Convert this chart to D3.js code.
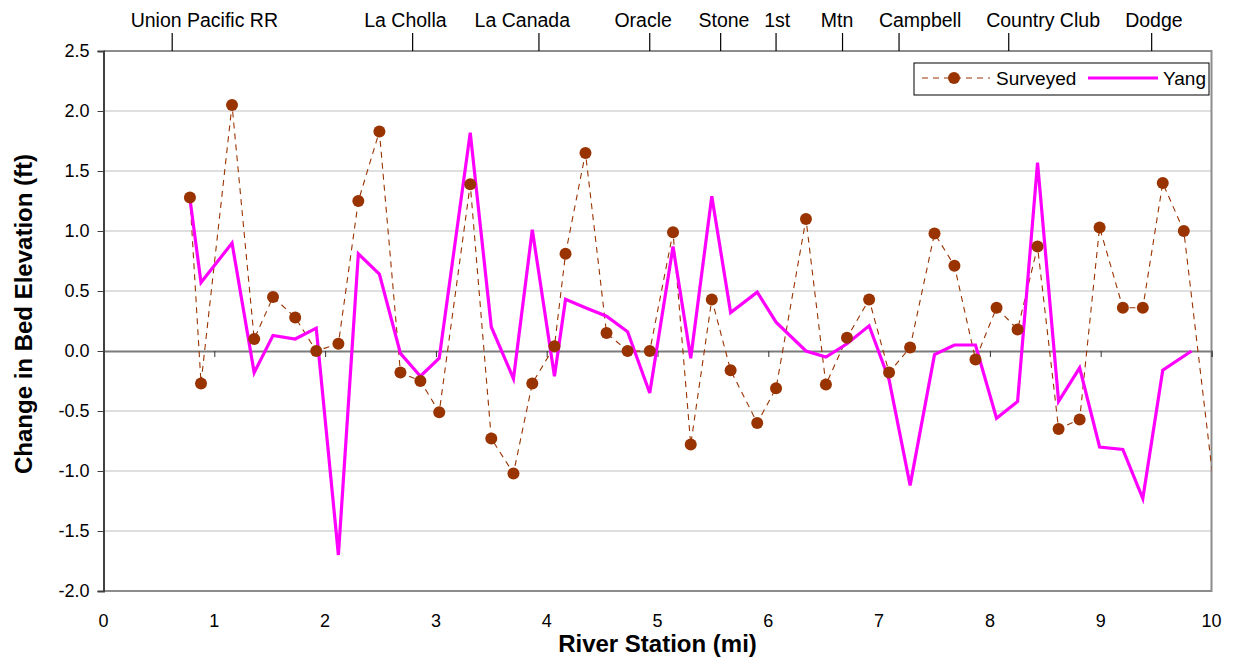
<!DOCTYPE html>
<html>
<head>
<meta charset="utf-8">
<script src="https://cdn.jsdelivr.net/npm/d3@7"></script>
<style>
  html, body { margin: 0; padding: 0; background: #ffffff; }
  svg { display: block; font-family: "Liberation Sans", Arial, sans-serif; }
</style>
</head>
<body>
<svg id="chart" width="1233" height="658"></svg>
<script>
// River stations (mi) of the surveyed cross sections
const surveyedStation = [0.78, 0.88, 1.16, 1.36, 1.53, 1.73, 1.92, 2.12, 2.30, 2.49,
  2.68, 2.86, 3.03, 3.31, 3.50, 3.70, 3.87, 4.07, 4.17, 4.35,
  4.54, 4.73, 4.93, 5.14, 5.30, 5.49, 5.66, 5.90, 6.07, 6.34,
  6.52, 6.71, 6.91, 7.09, 7.28, 7.50, 7.68, 7.87, 8.06, 8.25,
  8.43, 8.62, 8.81, 8.99, 9.20, 9.38, 9.56, 9.75, 10.05];
// Surveyed change in bed elevation (ft)
const surveyedChange = [1.28, -0.27, 2.05, 0.10, 0.45, 0.28, 0.00, 0.06, 1.25, 1.83,
  -0.18, -0.25, -0.51, 1.39, -0.73, -1.02, -0.27, 0.04, 0.81, 1.65,
  0.15, 0.00, 0.00, 0.99, -0.78, 0.43, -0.16, -0.60, -0.31, 1.10,
  -0.28, 0.11, 0.43, -0.18, 0.03, 0.98, 0.71, -0.07, 0.36, 0.18,
  0.87, -0.65, -0.57, 1.03, 0.36, 0.36, 1.40, 1.00, -1.35];

// Stations and computed change from the Yang sediment transport model
const yangStation = [0.78, 0.88, 1.16, 1.36, 1.53, 1.73, 1.92, 2.12, 2.30, 2.49,
  2.68, 2.86, 3.03, 3.31, 3.50, 3.70, 3.87, 4.07, 4.17, 4.35,
  4.54, 4.73, 4.93, 5.14, 5.30, 5.49, 5.66, 5.90, 6.07, 6.34,
  6.52, 6.71, 6.91, 7.09, 7.28, 7.50, 7.68, 7.87, 8.06, 8.25,
  8.43, 8.62, 8.81, 8.99, 9.20, 9.38, 9.56, 9.82];
const yangChange = [1.27, 0.57, 0.90, -0.18, 0.13, 0.10, 0.19, -1.70, 0.81, 0.64,
  -0.02, -0.21, -0.06, 1.82, 0.20, -0.23, 1.01, -0.21, 0.43, 0.36,
  0.29, 0.16, -0.35, 0.87, -0.06, 1.29, 0.32, 0.49, 0.24, 0.00,
  -0.05, 0.06, 0.21, -0.24, -1.12, -0.03, 0.05, 0.05, -0.56, -0.42,
  1.57, -0.42, -0.14, -0.80, -0.82, -1.23, -0.16, 0.00];

// Bridges / landmarks along the reach
const landmarkName = ["Union Pacific RR", "La Cholla", "La Canada", "Oracle", "Stone",
  "1st", "Mtn", "Campbell", "Country Club", "Dodge"];
const landmarkMile = [0.62, 2.79, 3.93, 4.93, 5.57, 6.07, 6.67, 7.18, 8.17, 9.46];
const landmarkLabelMile = [0.91, 2.725, 3.78, 4.87, 5.60, 6.08, 6.62, 7.37, 8.48, 9.48];

const xTicks = [0, 1, 2, 3, 4, 5, 6, 7, 8, 9, 10];
const yTicks = [-2.0, -1.5, -1.0, -0.5, 0.0, 0.5, 1.0, 1.5, 2.0, 2.5];

const seriesNames = ["Surveyed", "Yang"];

// ---- layout ----
const svg = d3.select("#chart");
const plotLeft = 103.5, plotTop = 51, plotRight = 1211.5, plotBottom = 591;

const x = d3.scaleLinear().domain([0, 10]).range([plotLeft, plotRight]);
const y = d3.scaleLinear().domain([-2, 2.5]).range([plotBottom, plotTop]);

const brown = "#993300";
const magenta = "#ff00ff";

// horizontal gridlines
svg.append("g")
  .selectAll("line")
  .data(yTicks.filter(v => v !== 0 && v !== 2.5 && v !== -2.0))
  .join("line")
  .attr("x1", plotLeft).attr("x2", plotRight)
  .attr("y1", d => y(d)).attr("y2", d => y(d))
  .attr("stroke", "#c0c0c0").attr("stroke-width", 1.2);

// plot area frame (top, right, bottom)
svg.append("path")
  .attr("d", `M${plotLeft},${plotTop}H${plotRight}V${plotBottom}H${plotLeft}`)
  .attr("fill", "none").attr("stroke", "#8c8c8c").attr("stroke-width", 2);

// zero line acting as the x axis, with its tick marks
const zeroAxis = svg.append("g").attr("transform", `translate(0,${y(0)})`)
  .call(d3.axisBottom(x).tickValues(xTicks).tickSize(6).tickFormat(""));
zeroAxis.select(".domain").attr("stroke", "#7a7a7a").attr("stroke-width", 2);
zeroAxis.selectAll(".tick line").attr("stroke", "#333").attr("stroke-width", 1);

// x tick labels below the plot
svg.append("g")
  .selectAll("text")
  .data(xTicks)
  .join("text")
  .attr("x", d => x(d)).attr("y", 627)
  .attr("text-anchor", "middle")
  .attr("font-size", 18)
  .attr("fill", "#000")
  .text(d => d);

// y axis
const yAxis = svg.append("g").attr("transform", `translate(${plotLeft},0)`)
  .call(d3.axisLeft(y).tickValues(yTicks).tickSize(6).tickPadding(8)
    .tickFormat(d => d.toFixed(1)));
yAxis.select(".domain").attr("stroke", "#404040").attr("stroke-width", 2);
yAxis.selectAll(".tick line").attr("stroke", "#404040").attr("stroke-width", 1);
yAxis.selectAll(".tick text").attr("font-size", 18).attr("fill", "#000")
  .attr("font-family", "Liberation Sans, Arial, sans-serif");

// landmark ticks and names above the plot
const marks = svg.append("g");
marks.selectAll("line")
  .data(landmarkMile)
  .join("line")
  .attr("x1", d => x(d)).attr("x2", d => x(d))
  .attr("y1", 33).attr("y2", plotTop)
  .attr("stroke", "#000").attr("stroke-width", 1.2);
marks.selectAll("text")
  .data(landmarkName)
  .join("text")
  .attr("x", (d, i) => x(landmarkLabelMile[i]))
  .attr("y", 27)
  .attr("text-anchor", "middle")
  .attr("font-size", 19.5)
  .attr("fill", "#000")
  .text(d => d);

// series, clipped to the plot area
svg.append("clipPath").attr("id", "plot-clip")
  .append("rect").attr("x", plotLeft).attr("y", plotTop)
  .attr("width", plotRight - plotLeft).attr("height", plotBottom - plotTop);
const plot = svg.append("g").attr("clip-path", "url(#plot-clip)");

const surveyed = surveyedStation.map((s, i) => [s, surveyedChange[i]]);
const yang = yangStation.map((s, i) => [s, yangChange[i]]);
const line = d3.line().x(d => x(d[0])).y(d => y(d[1]));

plot.append("path")
  .datum(surveyed)
  .attr("d", line)
  .attr("fill", "none")
  .attr("stroke", brown).attr("stroke-width", 1.1)
  .attr("stroke-dasharray", "6,5");

plot.append("path")
  .datum(yang)
  .attr("d", line)
  .attr("fill", "none")
  .attr("stroke", magenta).attr("stroke-width", 3.2)
  .attr("stroke-linejoin", "miter");

plot.selectAll("circle")
  .data(surveyed.filter(d => d[0] <= 10))
  .join("circle")
  .attr("cx", d => x(d[0])).attr("cy", d => y(d[1]))
  .attr("r", 6)
  .attr("fill", brown);

// legend
const legend = svg.append("g");
legend.append("rect")
  .attr("x", 914).attr("y", 63).attr("width", 295).attr("height", 32)
  .attr("fill", "#fff").attr("stroke", "#000").attr("stroke-width", 1);
legend.append("line")
  .attr("x1", 922).attr("x2", 990).attr("y1", 78).attr("y2", 78)
  .attr("stroke", brown).attr("stroke-width", 1.1).attr("stroke-dasharray", "6,5");
legend.append("circle").attr("cx", 954).attr("cy", 78).attr("r", 6).attr("fill", brown);
legend.append("text").attr("x", 996).attr("y", 85).attr("font-size", 19).text(seriesNames[0]);
legend.append("line")
  .attr("x1", 1088).attr("x2", 1158).attr("y1", 78).attr("y2", 78)
  .attr("stroke", magenta).attr("stroke-width", 3.2);
legend.append("text").attr("x", 1163).attr("y", 85).attr("font-size", 19).text(seriesNames[1]);

// axis titles
svg.append("text")
  .attr("x", (plotLeft + plotRight) / 2).attr("y", 652)
  .attr("text-anchor", "middle")
  .attr("font-size", 24).attr("font-weight", "bold")
  .text("River Station (mi)");
svg.append("text")
  .attr("transform", "translate(32,314) rotate(-90)")
  .attr("text-anchor", "middle")
  .attr("font-size", 24).attr("font-weight", "bold")
  .text("Change in Bed Elevation (ft)");
</script>
</body>
</html>
